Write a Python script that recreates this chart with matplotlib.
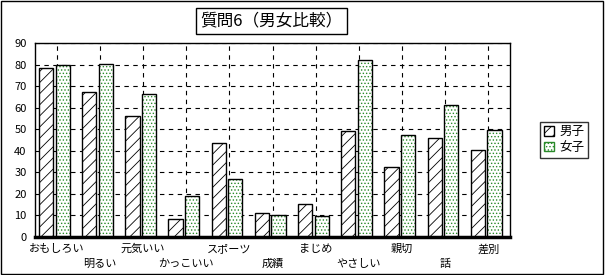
import matplotlib.pyplot as plt
import matplotlib.patches as mpatches
import numpy as np

plt.rcParams['font.family'] = ['Noto Sans CJK JP', 'DejaVu Sans']
plt.rcParams['hatch.linewidth'] = 0.6

# データ
categories = ['おもしろい', '明るい', '元気いい', 'かっこいい', 'スポーツ', '成績',
              'まじめ', 'やさしい', '親切', '話', '差別']
male = [78.6, 67.4, 56.3, 8.5, 43.8, 11.3, 15.5, 49.2, 32.6, 46.1, 40.5]
female = [80.0, 80.4, 66.2, 18.9, 27.1, 10.4, 9.9, 82.3, 47.5, 61.4, 49.5]
yticks = list(range(0, 100, 10))

green = '#2a8a2a'

fig = plt.figure(figsize=(6.05, 2.75), dpi=100)
ax = fig.add_axes([35 / 605, 1 - 237 / 275, 475 / 605, 194 / 275])

x = np.arange(len(categories))
w = 0.33

# 男子: 斜線
ax.bar(x - 0.245, male, w, color='white', hatch='///', edgecolor='black',
       linewidth=0, zorder=3)
ax.bar(x - 0.245, male, w, fill=False, edgecolor='black', linewidth=1, zorder=4)
# 女子: 緑の点
ax.bar(x + 0.14, female, w, color='white', hatch='.....', edgecolor=green,
       linewidth=0, zorder=3)
ax.bar(x + 0.14, female, w, fill=False, edgecolor='black', linewidth=1, zorder=4)

ax.set_xlim(-0.5, len(categories) - 0.5)
ax.set_ylim(0, 90)
ax.set_yticks(yticks)
ax.set_xticks(x)
ax.set_xticklabels([])
ax.tick_params(axis='both', length=0, labelsize=8, pad=6)
ax.grid(True, color='black', linestyle=(0, (4, 4)), linewidth=0.8, zorder=0)
for s in ax.spines.values():
    s.set_linewidth(1)
ax.spines['bottom'].set_linewidth(2.5)
ax.spines['bottom'].set_zorder(5)

# カテゴリラベル (2段)
for i, c in enumerate(categories):
    yy = -0.062 if i % 2 == 0 else -0.14
    ax.text(i, yy, c, transform=ax.get_xaxis_transform(), ha='center',
            va='center', fontsize=8)

# タイトル
fig.text(271.5 / 605, 1 - 21 / 275, '質問6（男女比較）', ha='center', va='center',
         fontsize=12, bbox=dict(boxstyle='square,pad=0.25', facecolor='white',
                                edgecolor='black', linewidth=1))

# 凡例
h1 = mpatches.Patch(facecolor='white', hatch='///', edgecolor='black', label='男子')
h2 = mpatches.Patch(facecolor='white', hatch='.....', edgecolor=green, label='女子')
leg = fig.legend(handles=[h1, h2], loc='center', bbox_to_anchor=(564 / 605, 1 - 139.5 / 275),
                 fontsize=9, frameon=True, fancybox=False, edgecolor='black',
                 handlelength=0.8, handleheight=0.8, handletextpad=0.4,
                 borderpad=0.3, labelspacing=0.2)
leg.get_frame().set_linewidth(1)

# 外枠
fig.patches.append(mpatches.Rectangle((0.002, 0.004), 0.994, 0.992, transform=fig.transFigure,
                                      fill=False, edgecolor='black', linewidth=1))

fig.savefig('out.png', dpi=100)
